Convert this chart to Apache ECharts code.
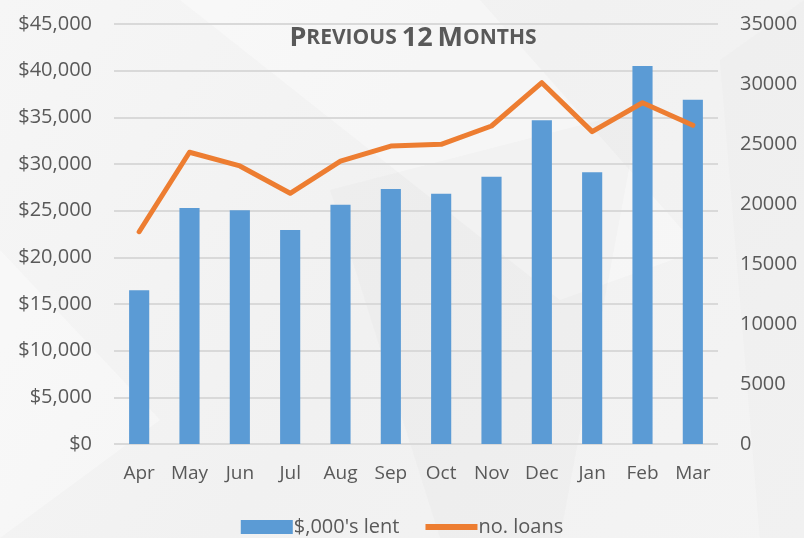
<!DOCTYPE html>
<html><head><meta charset="utf-8">
<script src="https://cdn.jsdelivr.net/npm/echarts@6/dist/echarts.min.js"></script>
<style>html,body{margin:0;padding:0;}#c{width:804px;height:538px;}</style>
</head><body><div id="c"></div>
<script>
const categories = ['Apr','May','Jun','Jul','Aug','Sep','Oct','Nov','Dec','Jan','Feb','Mar'];
const lent = [16470, 25290, 25040, 22930, 25640, 27320, 26820, 28640, 34680, 29110, 40500, 36890];
const loans = [17690, 24310, 23170, 20890, 23580, 24830, 24970, 26500, 30110, 26030, 28440, 26560];
const leftTicks = [0, 45000, 5000];
const rightTicks = [0, 35000, 5000];

const chart = echarts.init(document.getElementById('c'));
const font = 'Open Sans';
chart.setOption({
  backgroundColor: {type:'linear', x:0, y:0, x2:1, y2:1, colorStops:[{offset:0,color:'#f6f6f6'},{offset:0.5,color:'#f1f1f1'},{offset:1,color:'#f4f4f4'}]},
  graphic: [
    {type:'polygon', silent:true, z:-10, shape:{points:[[180,0],[480,0],[700,250],[560,300]]}, style:{fill:'rgba(255,255,255,0.35)'}},
    {type:'polygon', silent:true, z:-10, shape:{points:[[330,190],[640,110],[560,538],[440,538]]}, style:{fill:'rgba(210,210,210,0.12)'}},
    {type:'polygon', silent:true, z:-10, shape:{points:[[0,250],[160,420],[0,538]]}, style:{fill:'rgba(255,255,255,0.35)'}},
    {type:'polygon', silent:true, z:-10, shape:{points:[[720,60],[804,0],[804,538],[760,538]]}, style:{fill:'rgba(230,230,230,0.25)'}}
  ],
  title: {
    text: '{b|P}{s|REVIOUS} {b|12} {b|M}{s|ONTHS}',
    left: 408, top: 20, textAlign: 'center',
    textStyle: {rich: {
      b: {fontFamily: font, fontWeight: 'bold', fontSize: 27, color: '#595959'},
      s: {fontFamily: font, fontWeight: 'bold', fontSize: 21, color: '#595959'}
    }}
  },
  legend: {
    top: 512, left: 'center', itemGap: 26, itemWidth: 52, itemHeight: 14,
    textStyle: {fontFamily: font, fontSize: 20, color: '#595959', padding:[0,0,0,-4]},
    data: [
      {name: "$,000's lent", icon: 'rect'},
      {name: 'no. loans', icon: 'path://M0,0 L52,0 L52,6 L0,6 Z'}
    ]
  },
  grid: {left: 114, right: 86, top: 24, bottom: 94},
  xAxis: {
    type: 'category', data: categories,
    axisLine: {show: false}, axisTick: {show: false},
    axisLabel: {fontFamily: font, fontSize: 19, color: '#595959', margin: 20, interval: 0}
  },
  yAxis: [
    {type: 'value', min: leftTicks[0], max: leftTicks[1], interval: leftTicks[2],
     axisLine:{show:false}, axisTick:{show:false},
     splitLine: {lineStyle: {color: '#d9d9d9', width: 2}},
     axisLabel: {fontFamily: font, fontSize: 20, color: '#595959', margin: 22,
       formatter: v => '$' + v.toLocaleString('en-US')}},
    {type: 'value', min: rightTicks[0], max: rightTicks[1], interval: rightTicks[2],
     axisLine:{show:false}, axisTick:{show:false}, splitLine:{show:false},
     axisLabel: {fontFamily: font, fontSize: 20, color: '#595959', margin: 22,
       formatter: v => String(v)}}
  ],
  series: [
    {name: "$,000's lent", type: 'bar', data: lent, barWidth: '40%',
     itemStyle: {color: '#5b9bd5'}},
    {name: 'no. loans', type: 'line', yAxisIndex: 1, data: loans,
     symbol: 'none', lineStyle: {color: '#ed7d31', width: 5, cap:'round', join:'round'},
     itemStyle: {color: '#ed7d31'}}
  ]
});
</script></body></html>
